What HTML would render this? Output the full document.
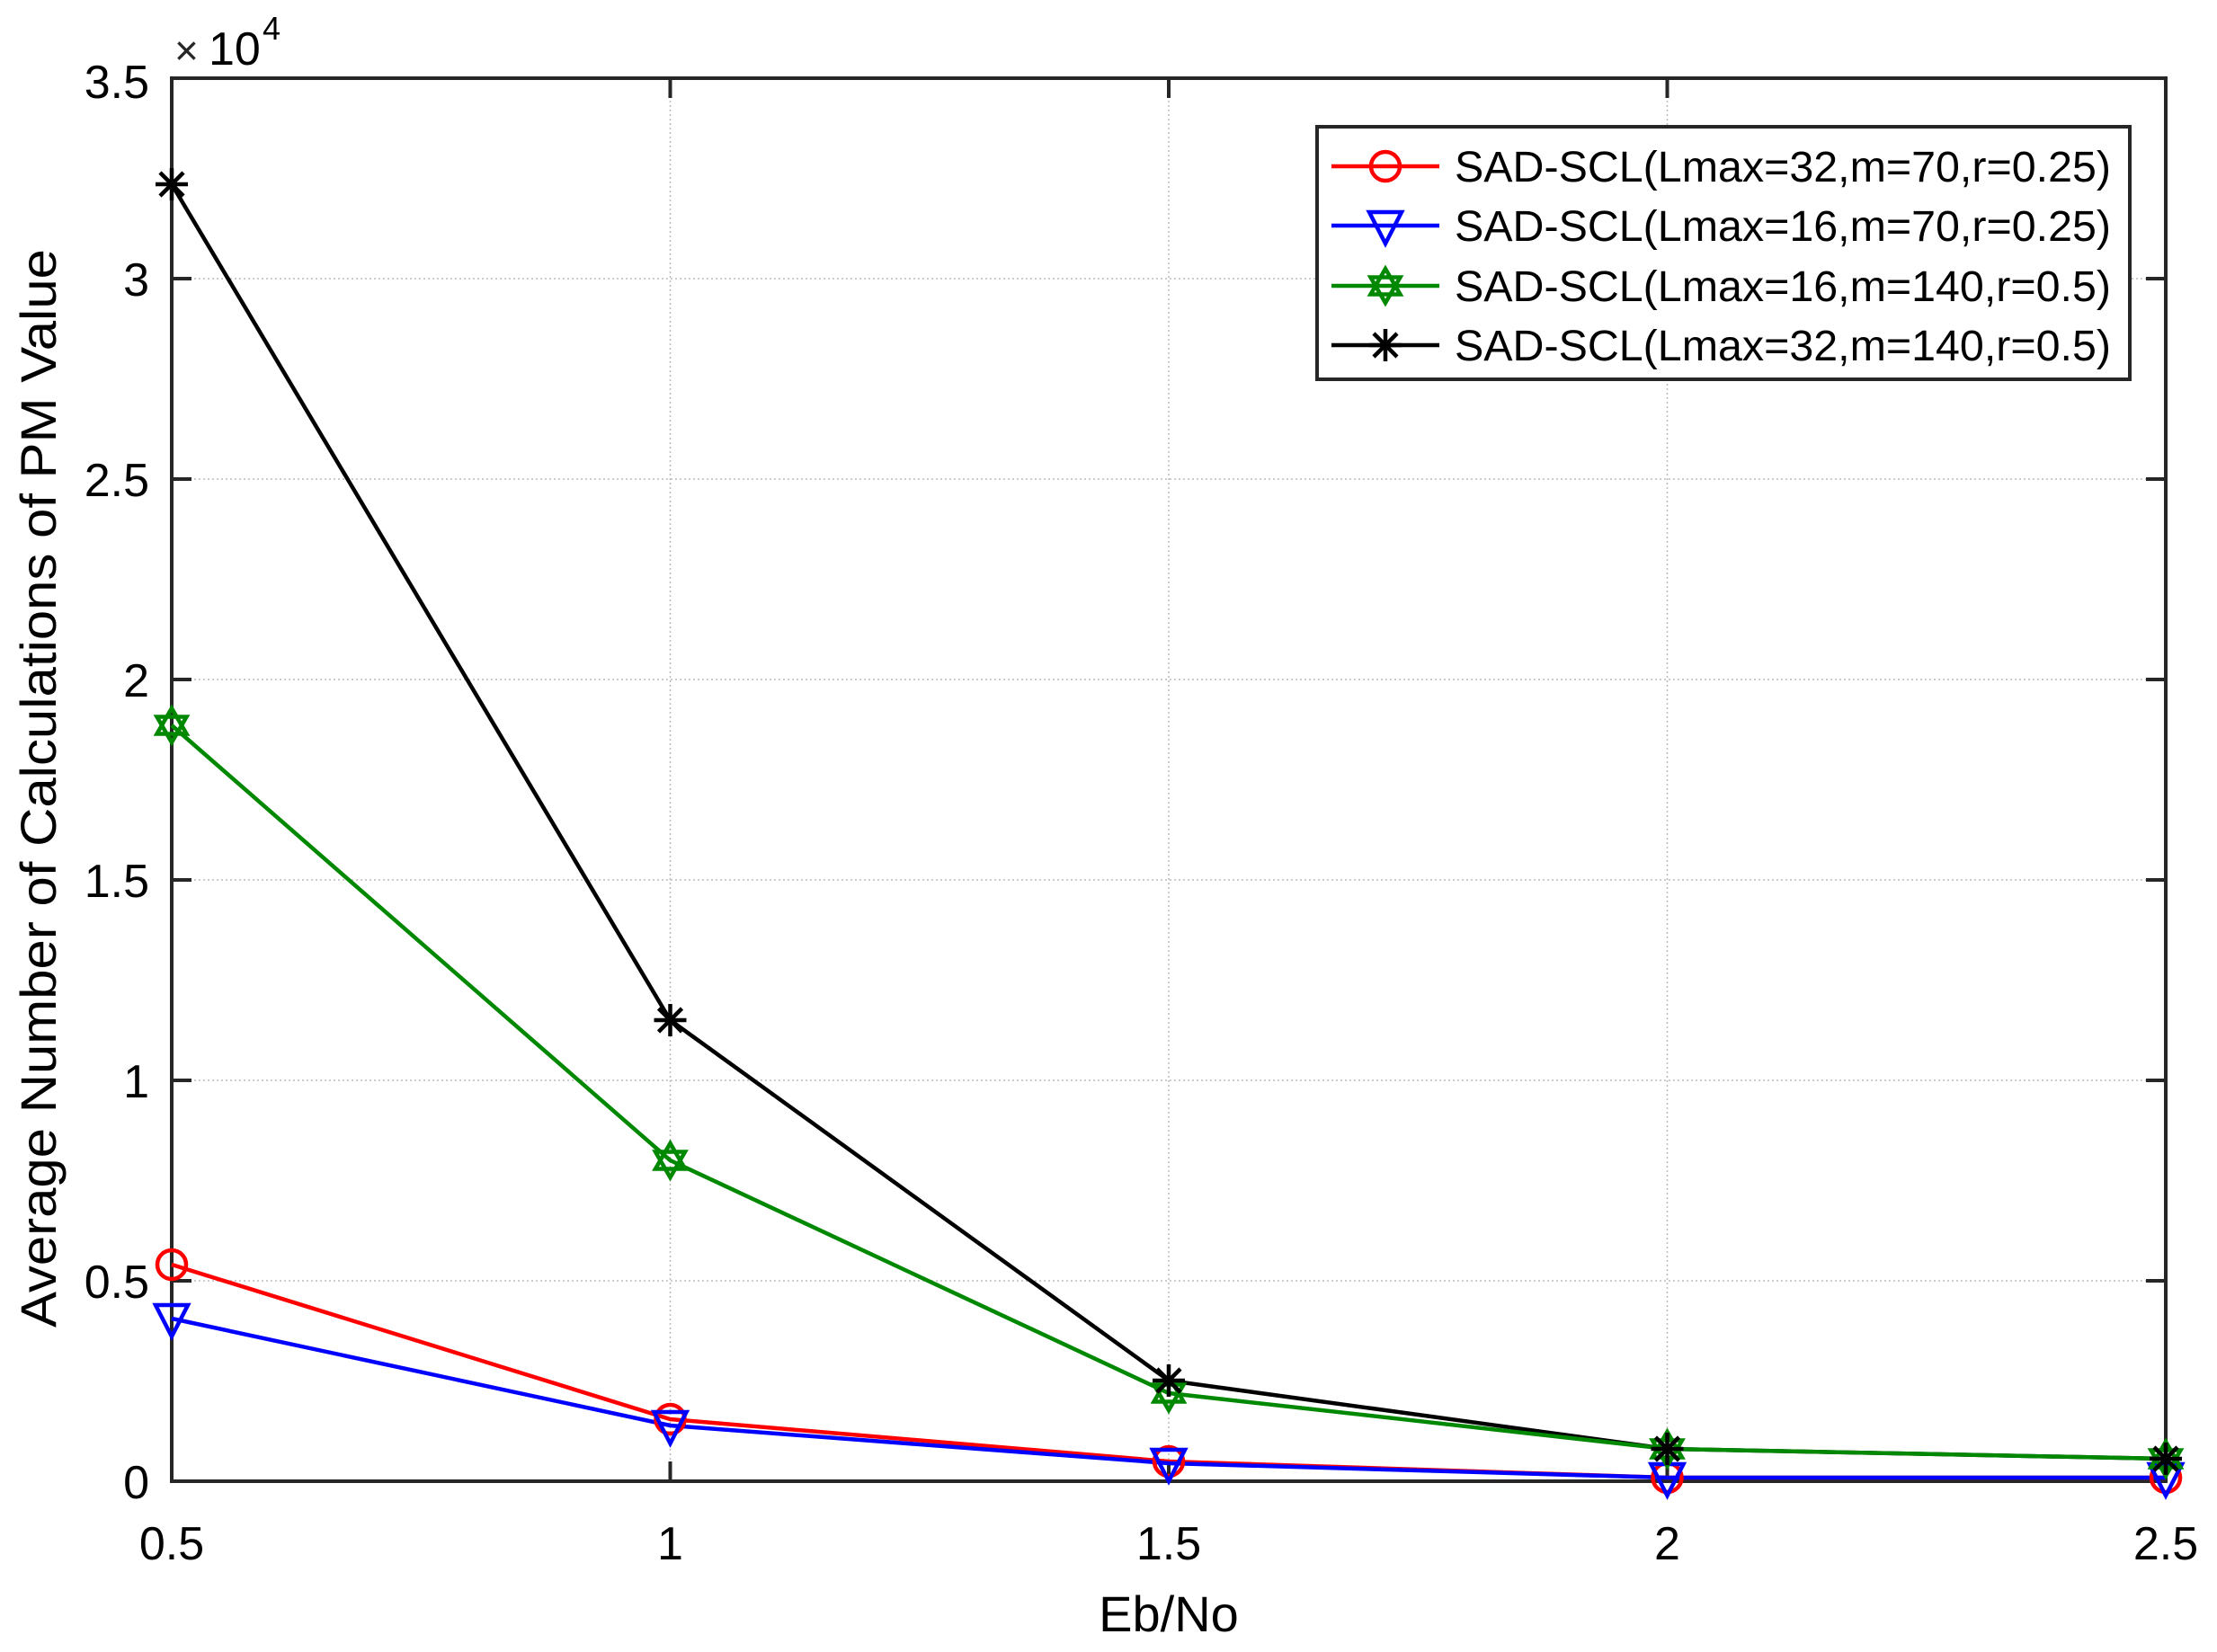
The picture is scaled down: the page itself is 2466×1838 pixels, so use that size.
<!DOCTYPE html>
<html><head><meta charset="utf-8"><style>body{margin:0;background:#fff}</style></head><body>
<svg width="2466" height="1833" xmlns="http://www.w3.org/2000/svg" font-family="Liberation Sans, Arial, sans-serif">
<rect width="2466" height="1833" fill="#fff"/>
<defs>
<g id="circ"><circle r="16" fill="none" stroke="#f00" stroke-width="4.5"/></g>
<g id="tri"><path d="M-18,-15 L18,-15 L0,20 Z" fill="none" stroke="#00f" stroke-width="4.5"/></g>
<g id="star"><path d="M0,-19 L16.5,9.5 L-16.5,9.5 Z M0,19 L16.5,-9.5 L-16.5,-9.5 Z" fill="none" stroke="#080" stroke-width="4.5"/></g>
<g id="ast" stroke="#000" stroke-width="4.5"><path d="M-18,0H18M0,-18V18M-13,-13L13,13M-13,13L13,-13"/></g>
</defs>
<g stroke="#bbb" stroke-width="1.5" stroke-dasharray="2,3">
<line x1="745.5" y1="87" x2="745.5" y2="1648"/>
<line x1="1300" y1="87" x2="1300" y2="1648"/>
<line x1="1854.5" y1="87" x2="1854.5" y2="1648"/>
<line x1="191" y1="1425" x2="2409" y2="1425"/>
<line x1="191" y1="1202" x2="2409" y2="1202"/>
<line x1="191" y1="979" x2="2409" y2="979"/>
<line x1="191" y1="756" x2="2409" y2="756"/>
<line x1="191" y1="533" x2="2409" y2="533"/>
<line x1="191" y1="310" x2="2409" y2="310"/>
</g>
<g stroke="#262626" stroke-width="4">
<path d="M745.5,1648v-22M1300,1648v-22M1854.5,1648v-22M745.5,87v22M1300,87v22M1854.5,87v22"/>
<path d="M191,1425h22M191,1202h22M191,979h22M191,756h22M191,533h22M191,310h22"/>
<path d="M2409,1425h-22M2409,1202h-22M2409,979h-22M2409,756h-22M2409,533h-22M2409,310h-22"/>
<rect x="191" y="87" width="2218" height="1561" fill="none"/>
</g>
<g font-size="52" fill="#000" text-anchor="end">
<text x="166" y="1667">0</text>
<text x="166" y="1444">0.5</text>
<text x="166" y="1221">1</text>
<text x="166" y="998">1.5</text>
<text x="166" y="775">2</text>
<text x="166" y="552">2.5</text>
<text x="166" y="329">3</text>
<text x="166" y="109">3.5</text>
</g>
<g font-size="52" fill="#000" text-anchor="middle">
<text x="191" y="1735">0.5</text>
<text x="745.5" y="1735">1</text>
<text x="1300" y="1735">1.5</text>
<text x="1854.5" y="1735">2</text>
<text x="2409" y="1735">2.5</text>
</g>
<text x="194" y="72" font-size="46" fill="#262626">×</text>
<text x="232" y="72" font-size="52" fill="#000">10</text>
<text x="292" y="44" font-size="36" fill="#000">4</text>
<text x="1300" y="1815" font-size="56" text-anchor="middle" fill="#000">Eb/No</text>
<text transform="translate(62,877) rotate(-90)" font-size="56" text-anchor="middle" fill="#000" textLength="1200" lengthAdjust="spacingAndGlyphs">Average Number of Calculations of PM Value</text>
<polyline fill="none" stroke="#000" stroke-width="4.5" points="191,205 745.5,1135 1300,1536 1854.5,1612 2409,1623"/>
<polyline fill="none" stroke="#080" stroke-width="4.5" points="191,807 745.5,1291 1300,1550 1854.5,1612 2409,1623"/>
<polyline fill="none" stroke="#f00" stroke-width="4.5" points="191,1407 745.5,1579 1300,1626 1854.5,1644 2409,1644"/>
<polyline fill="none" stroke="#00f" stroke-width="4.5" points="191,1467 745.5,1586 1300,1628 1854.5,1644 2409,1644"/>
<use href="#circ" x="191" y="1407"/><use href="#circ" x="745.5" y="1579"/><use href="#circ" x="1300" y="1626"/><use href="#circ" x="1854.5" y="1644"/><use href="#circ" x="2409" y="1644"/>
<use href="#tri" x="191" y="1467"/><use href="#tri" x="745.5" y="1586"/><use href="#tri" x="1300" y="1628"/><use href="#tri" x="1854.5" y="1644"/><use href="#tri" x="2409" y="1644"/>
<use href="#star" x="191" y="807"/><use href="#star" x="745.5" y="1291"/><use href="#star" x="1300" y="1550"/><use href="#star" x="1854.5" y="1612"/><use href="#star" x="2409" y="1623"/>
<use href="#ast" x="191" y="205"/><use href="#ast" x="745.5" y="1135"/><use href="#ast" x="1300" y="1536"/><use href="#ast" x="1854.5" y="1612"/><use href="#ast" x="2409" y="1623"/>
<rect x="1465" y="141" width="904" height="281" fill="#fff" stroke="#262626" stroke-width="4"/>
<g stroke-width="4.5">
<line x1="1481" y1="185" x2="1601" y2="185" stroke="#f00"/>
<line x1="1481" y1="251" x2="1601" y2="251" stroke="#00f"/>
<line x1="1481" y1="318" x2="1601" y2="318" stroke="#080"/>
<line x1="1481" y1="384" x2="1601" y2="384" stroke="#000"/>
</g>
<use href="#circ" x="1541" y="185"/><use href="#tri" x="1541" y="251"/><use href="#star" x="1541" y="318"/><use href="#ast" x="1541" y="384"/>
<g font-size="48" fill="#000">
<text x="1618" y="202" textLength="730" lengthAdjust="spacingAndGlyphs">SAD-SCL(Lmax=32,m=70,r=0.25)</text>
<text x="1618" y="268" textLength="730" lengthAdjust="spacingAndGlyphs">SAD-SCL(Lmax=16,m=70,r=0.25)</text>
<text x="1618" y="335" textLength="730" lengthAdjust="spacingAndGlyphs">SAD-SCL(Lmax=16,m=140,r=0.5)</text>
<text x="1618" y="401" textLength="730" lengthAdjust="spacingAndGlyphs">SAD-SCL(Lmax=32,m=140,r=0.5)</text>
</g>
</svg>
</body></html>
